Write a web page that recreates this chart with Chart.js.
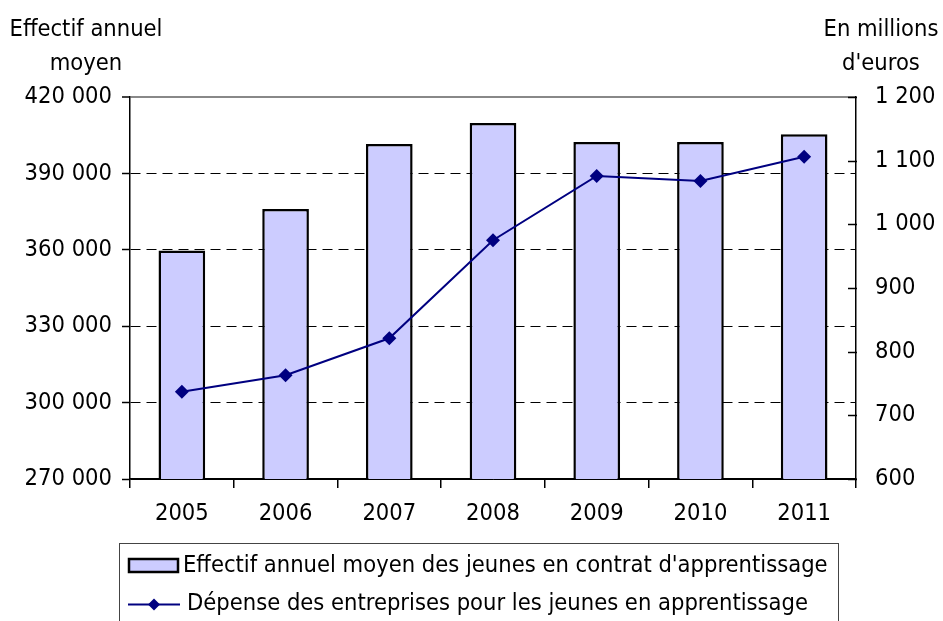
<!DOCTYPE html>
<html><head><meta charset="utf-8">
<script src="https://cdn.jsdelivr.net/npm/chart.js@4/dist/chart.umd.min.js"></script>
<style>html,body{margin:0;padding:0;background:#fff}#wrap{width:943px;height:621px;position:relative}</style>
</head><body><div id="wrap"><canvas id="c" width="943" height="621"></canvas></div>
<script>
const years = ['2005','2006','2007','2008','2009','2010','2011'];
const effectif = [359700, 376000, 401500, 409800, 402300, 402300, 405400];
const depense = [737, 763, 821, 975, 1076, 1068, 1106];
const leftTitle = ['Effectif annuel', 'moyen'];
const rightTitle = ['En millions', "d'euros"];
const barLabel = "Effectif annuel moyen des jeunes en contrat d'apprentissage";
const lineLabel = 'Dépense des entreprises pour les jeunes en apprentissage';

const FONT = '"DejaVu Sans Condensed", "DejaVu Sans", sans-serif';
const FS = 23.5;
const fmt = v => String(Math.round(v)).replace(/\B(?=(\d{3})+(?!\d))/g, ' ');

const extras = {
  id: 'extras',
  afterDraw(chart) {
    const ctx = chart.ctx, ca = chart.chartArea;
    ctx.save();
    const y1 = chart.scales.y1;
    ctx.strokeStyle = '#000'; ctx.lineWidth = 1.5;
    y1.ticks.forEach(t => {
      const y = Math.round(y1.getPixelForValue(t.value)) + 0.5;
      ctx.beginPath(); ctx.moveTo(ca.right - 8, y); ctx.lineTo(ca.right + 1, y); ctx.stroke();
    });
    ctx.fillStyle = '#000';
    ctx.font = FS + 'px ' + FONT;
    ctx.textAlign = 'center'; ctx.textBaseline = 'middle';
    ctx.fillText(leftTitle[0], 86, 30);
    ctx.fillText(leftTitle[1], 86, 64);
    ctx.fillText(rightTitle[0], 881, 30);
    ctx.fillText(rightTitle[1], 881, 64);
    ctx.strokeStyle = '#444'; ctx.lineWidth = 1;
    ctx.strokeRect(119.5, 543.5, 719, 90);
    const ds = chart.data.datasets;
    const bar = ds.find(d => d.type === 'bar'), line = ds.find(d => d.type === 'line');
    ctx.fillStyle = bar.backgroundColor;
    ctx.fillRect(129, 559, 49, 13);
    ctx.strokeStyle = '#000'; ctx.lineWidth = 2.5;
    ctx.strokeRect(129, 559, 49, 13);
    ctx.strokeStyle = line.borderColor; ctx.lineWidth = 2;
    ctx.beginPath(); ctx.moveTo(128, 604.5); ctx.lineTo(180, 604.5); ctx.stroke();
    ctx.fillStyle = line.pointBackgroundColor;
    ctx.beginPath(); ctx.moveTo(154, 598.5); ctx.lineTo(160, 604.5); ctx.lineTo(154, 610.5); ctx.lineTo(148, 604.5); ctx.closePath(); ctx.fill();
    ctx.fillStyle = '#000';
    ctx.textAlign = 'left';
    ctx.fillText(bar.label, 183, 566);
    ctx.fillText(line.label, 187, 604);
    ctx.restore();
  }
};

new Chart(document.getElementById('c'), {
  data: {
    labels: years,
    datasets: [
      { type: 'bar', label: barLabel, data: effectif, yAxisID: 'y', backgroundColor: '#ccccff', borderColor: '#000', borderWidth: 2.5,
        categoryPercentage: 1, barPercentage: 0.45, order: 1 },
      { type: 'line', label: lineLabel, data: depense, yAxisID: 'y1', borderColor: '#000080', borderWidth: 2,
        pointStyle: 'rectRot', pointRadius: 7, pointBackgroundColor: '#000080', pointBorderColor: '#000080', pointBorderWidth: 0, tension: 0, order: 0 }
    ]
  },
  options: {
    responsive: false, animation: false,
    layout: { padding: { top: 97, left: 0, right: 0, bottom: 0 } },
    plugins: { legend: { display: false }, tooltip: { enabled: false } },
    scales: {
      x: {
        offset: true,
        grid: { display: true, drawOnChartArea: false, offset: true, tickLength: 9, color: '#000', lineWidth: 1.5 },
        border: { color: '#000', width: 1.5 },
        ticks: { color: '#000', font: { family: FONT, size: FS }, padding: 12 },
        afterFit: s => { s.height = 621 - 479; }
      },
      y: {
        position: 'left', min: 270000, max: 420000,
        ticks: { stepSize: 30000, color: '#000', font: { family: FONT, size: FS }, padding: 10, callback: v => fmt(v) },
        grid: {
          color: c => (c.tick && c.tick.value === 420000) ? '#888' : '#000',
          lineWidth: c => (c.tick && c.tick.value === 420000) ? 2 : 1,
          tickColor: '#000', tickLength: 8, tickWidth: 1.5
        },
        border: { color: '#000', width: 1.5, dash: c => (c.tick && c.tick.value > 270000 && c.tick.value < 420000) ? [10, 6] : [] },
        afterFit: s => { s.width = 130; }
      },
      y1: {
        position: 'right', min: 600, max: 1200,
        ticks: { stepSize: 100, color: '#000', font: { family: FONT, size: FS }, padding: 19, callback: v => fmt(v) },
        grid: { drawOnChartArea: false, drawTicks: false },
        border: { color: '#000', width: 1.5 },
        afterFit: s => { s.width = 943 - 856; }
      }
    }
  },
  plugins: [extras]
});
</script></body></html>
